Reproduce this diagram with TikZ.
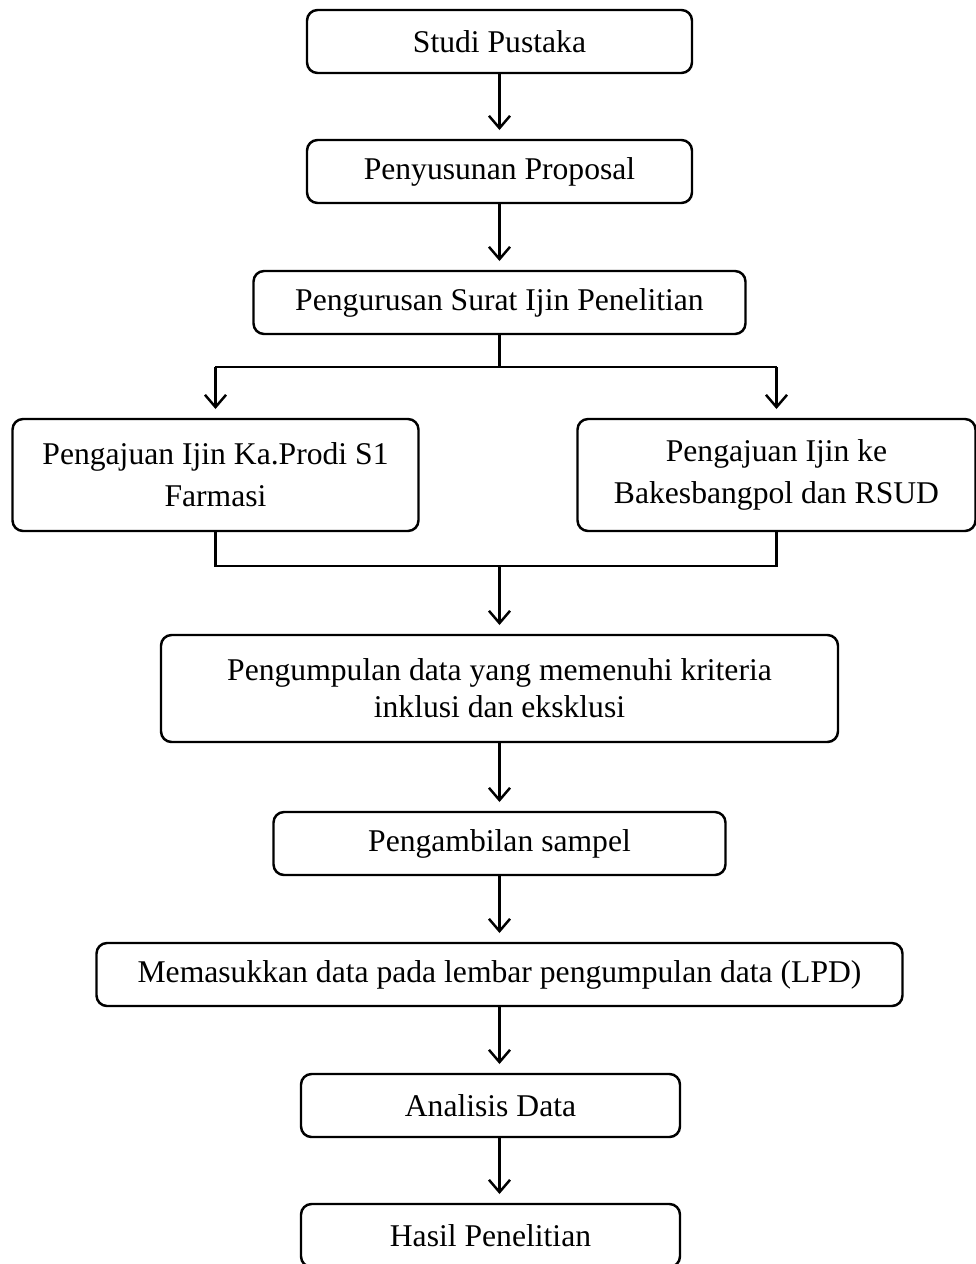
\documentclass[tikz,border=0pt]{standalone}
\usepackage{fontspec}
\setmainfont{Liberation Serif}
\usetikzlibrary{positioning,arrows.meta}
\begin{document}
\begin{tikzpicture}[node distance=1.34cm]
\tikzstyle{box}=[draw,line width=1.4pt,rounded corners=6pt,align=center,outer sep=0pt,
  minimum height=1.26cm,font=\fontsize{18}{24}\selectfont]
\tikzstyle{line}=[line width=1.4pt]
\tikzstyle{arrow}=[line,-{Straight Barb[length=7pt,width=12pt]},shorten >=0.2cm]
\useasboundingbox (-9.99,0.83) rectangle (9.51,-24.45);
\node[box,minimum width=7.7cm] (studi) at (0,0) {Studi Pustaka};
\node[box,minimum width=7.7cm] (proposal) [below=of studi] {Penyusunan Proposal};
\node[box,minimum width=9.84cm] (surat) [below=1.36cm of proposal] {Pengurusan Surat Ijin Penelitian};
\node[box,minimum width=8.12cm,minimum height=2.24cm] (prodi) [below=1.7cm of surat,xshift=-5.68cm]
  {Pengajuan Ijin Ka.Prodi S1\\Farmasi};
\node[box,minimum width=7.96cm,minimum height=2.24cm] (rsud) [below=1.7cm of surat,xshift=5.54cm]
  {Pengajuan Ijin ke\\Bakesbangpol dan RSUD};
\coordinate[below=0.66cm of surat] (split);
\coordinate[below=0.7cm of prodi] (mergel);
\coordinate (merge) at (mergel -| surat);
\node[box,minimum width=13.54cm,minimum height=2.14cm,font=\fontsize{18}{21}\selectfont] (kumpul)
  [below=1.38cm of merge] {Pengumpulan data yang memenuhi kriteria\\inklusi dan eksklusi};
\node[box,minimum width=9.04cm] (sampel) [below=1.4cm of kumpul] {Pengambilan sampel};
\node[box,minimum width=16.12cm] (lpd) [below=1.36cm of sampel]
  {Memasukkan data pada lembar pengumpulan data (LPD)};
\node[box,minimum width=7.58cm] (analisis) [below=1.36cm of lpd,xshift=-0.18cm] {Analisis Data};
\node[box,minimum width=7.58cm] (hasil) [below=1.34cm of analisis] {Hasil Penelitian};
\draw[arrow] (studi) -- (proposal);
\draw[arrow] (proposal) -- (surat);
\draw[line] (surat) -- (split);
\draw[line] (split -| prodi) -- (split -| rsud);
\draw[arrow] (split -| prodi) -- (prodi);
\draw[arrow] (split -| rsud) -- (rsud);
\draw[line] (prodi) -- (mergel) -| (rsud);
\draw[arrow] (merge) -- (kumpul);
\draw[arrow] (kumpul) -- (sampel);
\draw[arrow] (sampel) -- (lpd);
\draw[arrow] (lpd) -- (lpd |- analisis.north);
\draw[arrow] (analisis.south -| lpd) -- (lpd |- hasil.north);
\end{tikzpicture}
\end{document}
